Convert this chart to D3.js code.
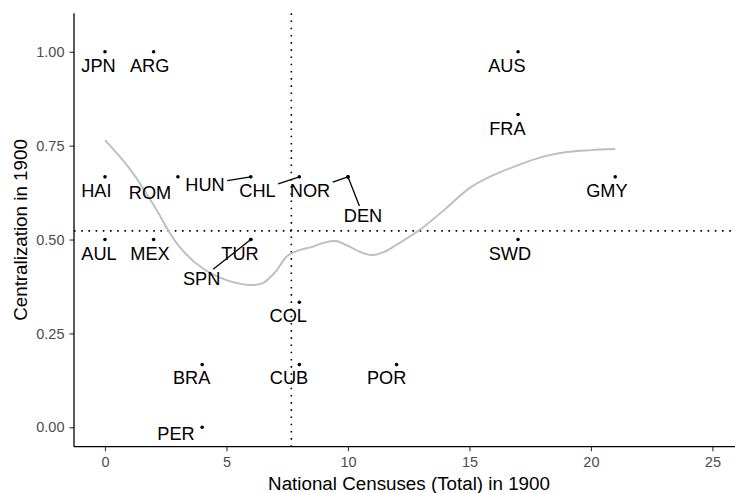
<!DOCTYPE html>
<html>
<head>
<meta charset="utf-8">
<script src="https://cdn.jsdelivr.net/npm/d3@7"></script>
<style>
  html, body { margin: 0; padding: 0; background: #ffffff; }
  svg { display: block; font-family: "Liberation Sans", Arial, Helvetica, sans-serif; }
</style>
</head>
<body>
<svg id="chart" width="735" height="493"></svg>
<script>
// ---- Data ----
const countries = ["JPN","ARG","AUS","FRA","HAI","ROM","HUN","CHL","NOR","DEN","GMY","AUL","MEX","TUR","SPN","SWD","COL","BRA","CUB","POR","PER"];
const censuses = [0, 2, 17, 17, 0, 3, 6, 8, 10, 10, 21, 0, 2, 6, 6, 17, 8, 4, 8, 12, 4];
const centralization = [1.000, 1.000, 1.000, 0.833, 0.667, 0.667, 0.667, 0.667, 0.667, 0.667, 0.667, 0.500, 0.500, 0.500, 0.500, 0.500, 0.333, 0.167, 0.167, 0.167, 0.000];

// smoothed trend
const trendX = [0, 1, 2, 3, 4, 5, 6, 6.5, 7, 7.5, 8, 8.5, 9, 9.5, 10, 10.5, 11, 11.5, 12, 13, 14, 15, 16, 17, 18, 19, 20, 21];
const trendY = [0.765, 0.690, 0.592, 0.486, 0.424, 0.392, 0.379, 0.384, 0.413, 0.456, 0.472, 0.480, 0.491, 0.496, 0.483, 0.467, 0.459, 0.467, 0.486, 0.528, 0.581, 0.637, 0.672, 0.698, 0.720, 0.733, 0.738, 0.741];

// reference lines (means)
const meanCensuses = 7.67;
const meanCentralization = 0.523;

// tick labels
const xTicks = [0, 5, 10, 15, 20, 25];
const yTicks = [0, 0.25, 0.5, 0.75, 1.0];

// ---- Layout (label placement, pixels relative to point) ----
const labelLayout = {
  JPN: [-6.5, 20.3], ARG: [-3.9, 20.3], AUS: [-11.1, 20], FRA: [-10.6, 20.6],
  HAI: [-8.7, 19.8], ROM: [-27.9, 22.4], HUN: [-45.8, 14.1, true], CHL: [-41.9, 20.4, true],
  NOR: [-38, 19.8, true], DEN: [15, 44.8, true], GMY: [-8.3, 20.4],
  AUL: [-6, 20.5], MEX: [-3.6, 20.5], TUR: [-10.8, 20.5], SPN: [-49.1, 45.5, true],
  SWD: [-8.1, 20.5], COL: [-11.1, 19.6], BRA: [-10.5, 19.3], CUB: [-10.4, 19.3],
  POR: [-9.9, 19.3], PER: [-26.2, 12.7]
};

(function () {
const svg = d3.select("#chart");
const pLeft = 74, pRight = 735, pTop = 13.3, pBottom = 446.7;

const x = d3.scaleLinear().domain([-1.276, 25.93]).range([pLeft, pRight]);
const y = d3.scaleLinear().domain([-0.0517, 1.1025]).range([pBottom, pTop]);

const points = countries.map((c, i) => ({ name: c, x: censuses[i], y: centralization[i] }));

// reference lines
svg.append("line")
  .attr("x1", x(meanCensuses)).attr("x2", x(meanCensuses))
  .attr("y1", pTop).attr("y2", pBottom)
  .attr("stroke", "#000").attr("stroke-width", 1.6)
  .attr("stroke-dasharray", "1.6,5.6");
svg.append("line")
  .attr("x1", pLeft).attr("x2", pRight)
  .attr("y1", y(meanCentralization)).attr("y2", y(meanCentralization))
  .attr("stroke", "#000").attr("stroke-width", 1.6)
  .attr("stroke-dasharray", "1.6,5.6");

// trend line
const line = d3.line().x((d, i) => x(trendX[i])).y(d => y(d)).curve(d3.curveCatmullRom.alpha(0.5));
svg.append("path")
  .datum(trendY)
  .attr("d", line)
  .attr("fill", "none")
  .attr("stroke", "#bebebe")
  .attr("stroke-width", 1.9);

// labels and segments
const gLab = svg.append("g");
points.forEach(p => {
  const lay = labelLayout[p.name];
  const px = x(p.x), py = y(p.y);
  const t = gLab.append("text")
    .attr("x", px + lay[0]).attr("y", py + lay[1])
    .attr("text-anchor", "middle")
    .attr("font-size", 18.2)
    .attr("fill", "#000")
    .text(p.name);
  if (lay[2]) {
    const bb = t.node().getBBox();
    const pad = 2.5;
    const x0 = bb.x - pad, x1 = bb.x + bb.width + pad;
    const capTop = py + lay[1] - 13.2, base = py + lay[1];
    const y0 = capTop - pad, y1 = base + pad;
    const cx = px + lay[0], cy = (capTop + base) / 2;
    const dx = px - cx, dy = py - cy;
    let tt = 1;
    if (dx !== 0) {
      const tx = dx > 0 ? (x1 - cx) / dx : (x0 - cx) / dx;
      tt = Math.min(tt, tx);
    }
    if (dy !== 0) {
      const ty = dy > 0 ? (y1 - cy) / dy : (y0 - cy) / dy;
      tt = Math.min(tt, ty);
    }
    gLab.append("line")
      .attr("x1", cx + dx * tt).attr("y1", cy + dy * tt)
      .attr("x2", px).attr("y2", py)
      .attr("stroke", "#000").attr("stroke-width", 1.3);
  }
});

// points
svg.append("g").selectAll("circle").data(points).join("circle")
  .attr("cx", d => x(d.x)).attr("cy", d => y(d.y))
  .attr("r", 1.8).attr("fill", "#000");

// axes
const xAxis = svg.append("g").attr("transform", `translate(0,${pBottom})`)
  .call(d3.axisBottom(x).tickValues(xTicks).tickFormat(d3.format("d")).tickSize(4.5).tickPadding(5.5));
const yAxis = svg.append("g").attr("transform", `translate(${pLeft},0)`)
  .call(d3.axisLeft(y).tickValues(yTicks).tickFormat(d3.format(".2f")).tickSize(4.5).tickPadding(5));

[xAxis, yAxis].forEach(a => {
  a.select(".domain").remove();
  a.selectAll(".tick line").attr("stroke", "#333333").attr("stroke-width", 1.1);
  a.selectAll(".tick text").attr("fill", "#4d4d4d").attr("font-size", 14.5)
    .attr("font-family", "Liberation Sans, Arial, sans-serif");
});

svg.append("line").attr("x1", pLeft).attr("x2", pRight).attr("y1", pBottom).attr("y2", pBottom)
  .attr("stroke", "#000").attr("stroke-width", 1.3);
svg.append("line").attr("x1", pLeft).attr("x2", pLeft).attr("y1", pTop).attr("y2", pBottom)
  .attr("stroke", "#000").attr("stroke-width", 1.3);

// axis titles
svg.append("text")
  .attr("x", 409).attr("y", 489.5)
  .attr("text-anchor", "middle").attr("font-size", 18.8).attr("fill", "#000")
  .text("National Censuses (Total) in 1900");
svg.append("text")
  .attr("transform", "translate(26.5,230) rotate(-90)")
  .attr("text-anchor", "middle").attr("font-size", 18.8).attr("fill", "#000")
  .text("Centralization in 1900");
})();
</script>
</body>
</html>
